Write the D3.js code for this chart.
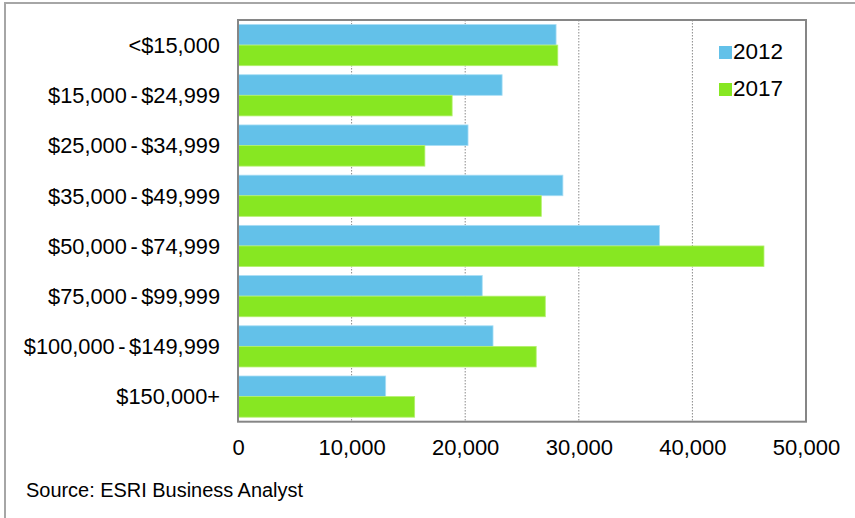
<!DOCTYPE html>
<html>
<head>
<meta charset="utf-8">
<script src="https://cdn.jsdelivr.net/npm/d3@7"></script>
<style>
  html, body { margin: 0; padding: 0; background: #fff; }
  svg { display: block; font-family: "Liberation Sans", Arial, sans-serif; }
</style>
</head>
<body>
<svg id="chart" width="855" height="518"></svg>
<script>
const categories = ["<$15,000", "$15,000 - $24,999", "$25,000 - $34,999", "$35,000 - $49,999",
  "$50,000 - $74,999", "$75,000 - $99,999", "$100,000 - $149,999", "$150,000+"];
const seriesNames = ["2012", "2017"];
const values2012 = [28000, 23250, 20250, 28600, 37100, 21500, 22450, 13000];
const values2017 = [28150, 18850, 16450, 26700, 46300, 27050, 26250, 15550];
const tickValues = [0, 10000, 20000, 30000, 40000, 50000];
const sourceText = "Source:  ESRI Business Analyst";

const colors = { "2012": "#63c1e9", "2017": "#87e722" };
const strokeColors = { "2012": "#a9def5", "2017": "#b4f06e" };

const svg = d3.select("#chart");
const plot = { left: 238, top: 20, right: 806, bottom: 421.7 };

// outer frame
svg.append("rect").attr("x", 5).attr("y", 3).attr("width", 870).attr("height", 540)
  .attr("fill", "none").attr("stroke", "#a6a6a6").attr("stroke-width", 2);

const x = d3.scaleLinear().domain([0, 50000]).range([plot.left, plot.right]);
const y = d3.scaleBand().domain(categories).range([plot.top, plot.bottom])
  .paddingInner(0.18).paddingOuter(0.09);
const ySub = d3.scaleBand().domain(seriesNames).range([0, y.bandwidth()]);

// gridlines
svg.append("g").selectAll("line").data(tickValues.slice(1, -1)).join("line")
  .attr("x1", d => x(d)).attr("x2", d => x(d))
  .attr("y1", plot.top).attr("y2", plot.bottom)
  .attr("stroke", "#8a8a8a").attr("stroke-width", 1).attr("stroke-dasharray", "1.5,1.5");

// bars
const data = categories.map((c, i) => ({ c, vals: [{ s: "2012", v: values2012[i] }, { s: "2017", v: values2017[i] }] }));
const groups = svg.append("g").selectAll("g").data(data).join("g")
  .attr("transform", d => `translate(0,${y(d.c)})`);
groups.selectAll("rect").data(d => d.vals).join("rect")
  .attr("x", x(0))
  .attr("y", d => ySub(d.s))
  .attr("width", d => x(d.v) - x(0))
  .attr("height", ySub.bandwidth())
  .attr("fill", d => colors[d.s])
  .attr("stroke", d => strokeColors[d.s]).attr("stroke-width", 0.8);

// plot frame
svg.append("rect").attr("x", plot.left).attr("y", plot.top)
  .attr("width", plot.right - plot.left).attr("height", plot.bottom - plot.top)
  .attr("fill", "none").attr("stroke", "#868686").attr("stroke-width", 2);

// category labels
const yAxis = d3.axisLeft(y).tickSize(0).tickPadding(18);
const ya = svg.append("g").attr("transform", `translate(${plot.left},0)`).call(yAxis);
ya.select(".domain").remove();
ya.selectAll("text").attr("font-size", 21.8).attr("fill", "#000")
  .attr("font-family", "'Liberation Sans', Arial, sans-serif").attr("dy", "0.36em")
  .attr("word-spacing", -2.5);

// x axis labels
const xAxis = d3.axisBottom(x).tickValues(tickValues).tickSize(0).tickPadding(18)
  .tickFormat(d3.format(","));
const xa = svg.append("g").attr("transform", `translate(0,${plot.bottom})`).call(xAxis);
xa.select(".domain").remove();
xa.selectAll("text").attr("font-size", 22).attr("fill", "#000")
  .attr("font-family", "'Liberation Sans', Arial, sans-serif").attr("dy", "0.68em");

// legend
const legend = svg.append("g");
seriesNames.forEach((s, i) => {
  const ly = 46 + i * 37;
  legend.append("rect").attr("x", 719).attr("y", ly).attr("width", 13).attr("height", 13)
    .attr("fill", colors[s]);
  legend.append("text").attr("x", 733).attr("y", ly + 13).text(s)
    .attr("font-size", 22.5).attr("fill", "#000");
});

// source
svg.append("text").attr("x", 26).attr("y", 497).text(sourceText)
  .attr("font-size", 20).attr("fill", "#000")
  .attr("textLength", 277).attr("lengthAdjust", "spacingAndGlyphs");
</script>
</body>
</html>
